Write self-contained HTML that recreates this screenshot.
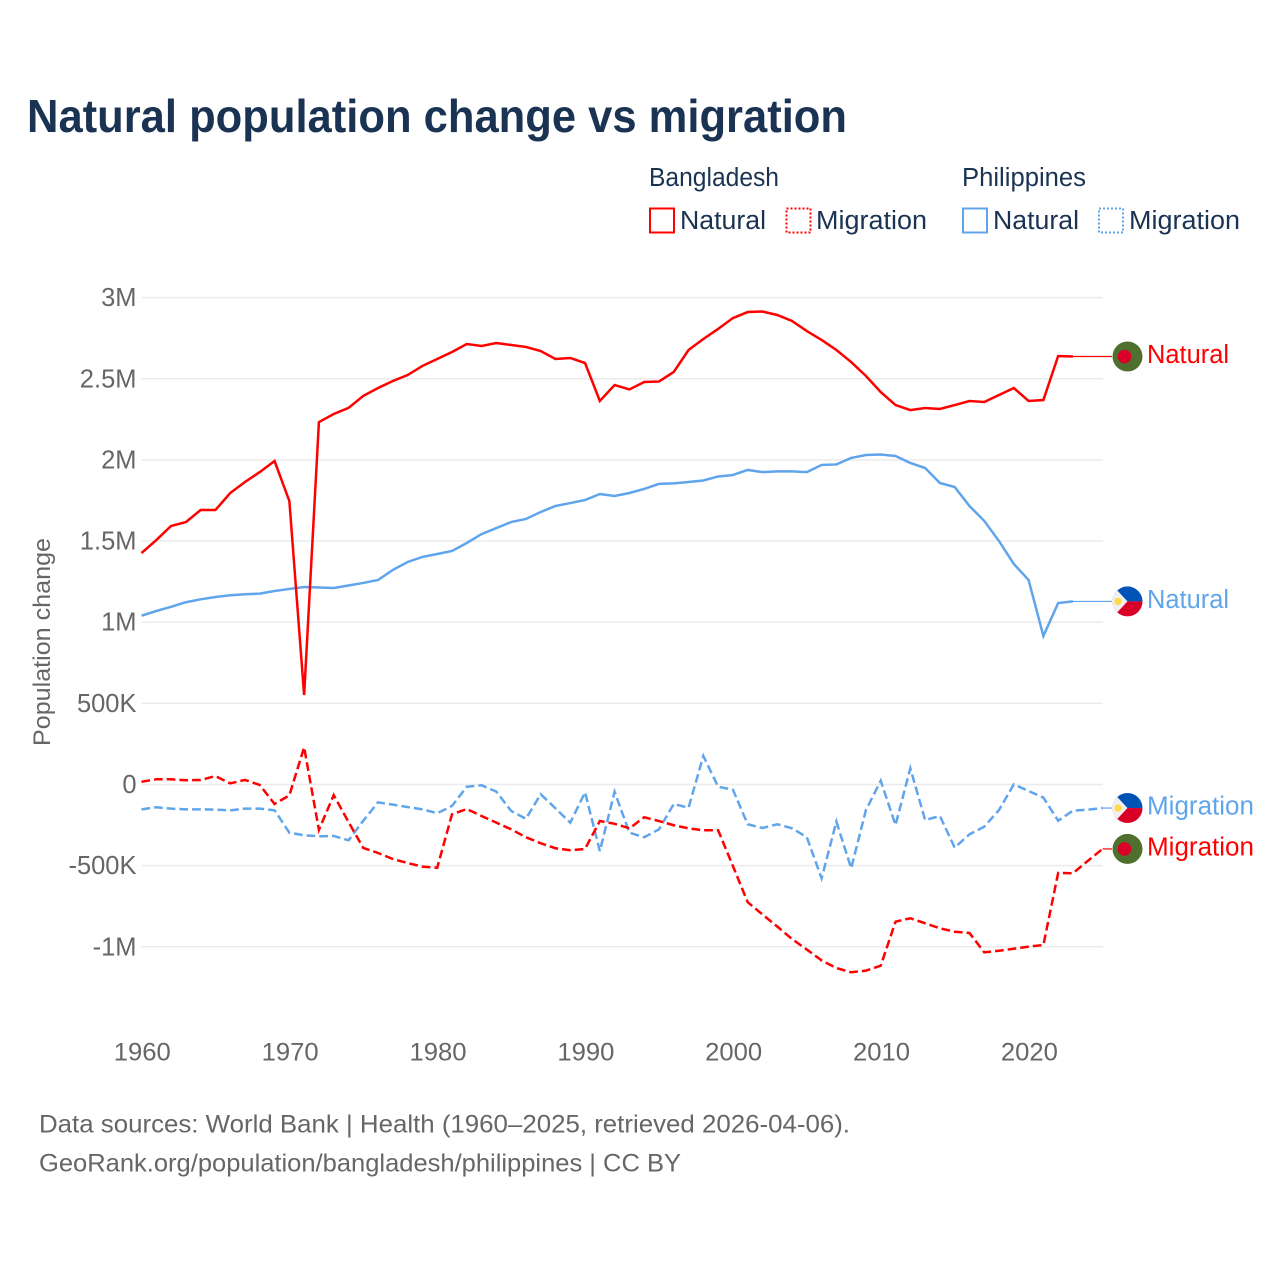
<!DOCTYPE html>
<html lang="en">
<head>
<meta charset="utf-8">
<title>Natural population change vs migration</title>
<style>
html,body{margin:0;padding:0;background:#fff}
svg{display:block;font-family:"Liberation Sans",sans-serif}
</style>
</head>
<body>
<svg id="chart" width="1280" height="1280" viewBox="0 0 1280 1280" xmlns="http://www.w3.org/2000/svg">
  <rect width="1280" height="1280" fill="#fff"/>
  <text x="27" y="132" font-size="46" font-weight="700" fill="#1a3353" textLength="820" lengthAdjust="spacingAndGlyphs">Natural population change vs migration</text>

  <g font-size="25.5" fill="#1a3353">
    <text x="649" y="186" textLength="130" lengthAdjust="spacingAndGlyphs">Bangladesh</text>
    <text x="962" y="186" textLength="124" lengthAdjust="spacingAndGlyphs">Philippines</text>

    <g>
      <rect x="650" y="208.5" width="24" height="24" fill="none" stroke="#ff0000" stroke-width="2"/>
      <text x="680" y="229" textLength="86" lengthAdjust="spacingAndGlyphs">Natural</text>
    </g>
    <g>
      <rect x="786.5" y="208.5" width="24" height="24" fill="none" stroke="#ff0000" stroke-width="2" stroke-dasharray="2 2"/>
      <text x="816" y="229" textLength="111" lengthAdjust="spacingAndGlyphs">Migration</text>
    </g>
    <g>
      <rect x="963" y="208.5" width="24" height="24" fill="none" stroke="#60a5ec" stroke-width="2"/>
      <text x="993" y="229" textLength="86" lengthAdjust="spacingAndGlyphs">Natural</text>
    </g>
    <g>
      <rect x="1099" y="208.5" width="24" height="24" fill="none" stroke="#60a5ec" stroke-width="2" stroke-dasharray="2 2"/>
      <text x="1129" y="229" textLength="111" lengthAdjust="spacingAndGlyphs">Migration</text>
    </g>
  </g>

  <g id="grid"></g>
  <g id="yticks"></g>
  <g id="xticks"></g>
  <text transform="translate(50 642) rotate(-90)" text-anchor="middle" font-size="24" fill="#666" textLength="208" lengthAdjust="spacingAndGlyphs">Population change</text>

  <g id="series"></g>
  <g id="endlabels"></g>

  <defs>
    <clipPath id="flag-clip"><circle cx="0" cy="0" r="15"/></clipPath>
  </defs>

  <text x="39" y="1132.5" font-size="25" fill="#666" textLength="811" lengthAdjust="spacingAndGlyphs">Data sources: World Bank | Health (1960–2025, retrieved 2026-04-06).</text>
  <text x="39" y="1171.5" font-size="25" fill="#666" textLength="642" lengthAdjust="spacingAndGlyphs">GeoRank.org/population/bangladesh/philippines | CC BY</text>
</svg>

<script>
var startYear = 1960;
var xTickYears = [1960, 1970, 1980, 1990, 2000, 2010, 2020];
var yTickValues = [3000, 2500, 2000, 1500, 1000, 500, 0, -500, -1000];
var yTickLabels = ["3M", "2.5M", "2M", "1.5M", "1M", "500K", "0", "-500K", "-1M"];

var bangladeshNatural = [1426,1506,1593,1617,1691,1691,1796,1864,1925,1993,1747,551,2233,2283,2320,2394,2443,2486,2523,2579,2622,2665,2714,2702,2720,2708,2696,2671,2622,2628,2597,2363,2461,2434,2480,2483,2542,2677,2745,2807,2874,2911,2914,2893,2856,2794,2739,2677,2603,2517,2418,2338,2307,2320,2314,2338,2363,2357,2400,2443,2363,2369,2640,2637];
var philippinesNatural = [1040,1069,1095,1123,1141,1155,1166,1172,1176,1192,1205,1217,1214,1211,1226,1242,1260,1322,1371,1402,1420,1439,1488,1543,1580,1617,1636,1679,1716,1734,1753,1790,1778,1796,1821,1852,1855,1864,1873,1898,1907,1938,1925,1929,1929,1925,1969,1972,2012,2030,2033,2024,1981,1950,1858,1833,1716,1624,1500,1359,1260,915,1118,1128];
var bangladeshMigration = [17,32,32,26,28,52,7,28,-3,-120,-67,229,-280,-65,-231,-391,-422,-459,-484,-506,-513,-184,-151,-194,-235,-276,-325,-362,-393,-405,-397,-225,-242,-270,-202,-225,-251,-270,-282,-282,-502,-725,-801,-875,-952,-1017,-1084,-1131,-1157,-1147,-1116,-845,-824,-855,-886,-907,-915,-1034,-1024,-1012,-999,-989,-545,-547,-471,-397];
var philippinesMigration = [-153,-140,-149,-153,-153,-155,-159,-149,-149,-159,-297,-313,-319,-317,-344,-223,-110,-124,-139,-153,-177,-132,-14,-5,-44,-163,-211,-60,-147,-235,-48,-410,-45,-297,-325,-276,-120,-143,176,-14,-32,-245,-268,-245,-270,-325,-578,-229,-516,-157,23,-250,100,-219,-194,-389,-307,-260,-157,1,-40,-81,-223,-161,-155,-145];

var NS = "http://www.w3.org/2000/svg";
var RED = "#ff0000";
var BLUE = "#60a5ec";
function xScale(year) { return 141.5 + (year - 1960) * 14.785; }
function yScale(value) { return 784.5 - value * 0.1623; }
function make(tag, parent) {
  var el = document.createElementNS(NS, tag);
  parent.appendChild(el);
  return el;
}
function pathFor(values) {
  return values.map(function (v, i) {
    return (i ? "L" : "M") + xScale(startYear + i).toFixed(2) + " " + yScale(v).toFixed(2);
  }).join("");
}

var gridG = document.getElementById("grid");
var yG = document.getElementById("yticks");
var xG = document.getElementById("xticks");
var seriesG = document.getElementById("series");
var endG = document.getElementById("endlabels");

yTickValues.forEach(function (v, i) {
  var line = make("line", gridG);
  
  
  line.setAttribute("x1", 141.5);
  line.setAttribute("x2", 1103);
  line.setAttribute("y1", yScale(v));
  line.setAttribute("y2", yScale(v));
  line.setAttribute("stroke", "#ebebeb");
  line.setAttribute("stroke-width", "1.5");

  var label = make("text", yG);
  
  
  label.setAttribute("x", 136.5);
  label.setAttribute("y", yScale(v) + 8.5);
  label.setAttribute("text-anchor", "end");
  label.setAttribute("font-size", "25.5");
  label.setAttribute("fill", "#666");
  label.textContent = yTickLabels[i];
});

xTickYears.forEach(function (year) {
  var label = make("text", xG);
  
  
  label.setAttribute("x", xScale(year) + 0.8);
  label.setAttribute("y", 1060.5);
  label.setAttribute("text-anchor", "middle");
  label.setAttribute("font-size", "25");
  label.setAttribute("fill", "#666");
  label.setAttribute("textLength", "57");
  label.setAttribute("lengthAdjust", "spacingAndGlyphs");
  label.textContent = String(year);
});

function drawLine(values, color, dashed, name) {
  var p = make("path", seriesG);
  
  
  p.setAttribute("d", pathFor(values));
  p.setAttribute("fill", "none");
  p.setAttribute("stroke", color);
  p.setAttribute("stroke-width", "2.5");
  if (dashed) { p.setAttribute("stroke-dasharray", "8.7 4"); }
}
drawLine(philippinesMigration, BLUE, true, "line-philippines-migration");
drawLine(bangladeshMigration, RED, true, "line-bangladesh-migration");
drawLine(philippinesNatural, BLUE, false, "line-philippines-natural");
drawLine(bangladeshNatural, RED, false, "line-bangladesh-natural");

function drawFlagBangladesh(g) {
  var bg = make("circle", g);
  
  
  bg.setAttribute("r", 15);
  bg.setAttribute("fill", "#4f6f2f");
  var disc = make("circle", g);
  
  
  disc.setAttribute("cx", -3);
  disc.setAttribute("r", 6.8);
  disc.setAttribute("fill", "#d80027");
}
function drawFlagPhilippines(g) {
  var inner = make("g", g);
  
  
  inner.setAttribute("clip-path", "url(#flag-clip)");
  var top = make("rect", inner);
  
  
  top.setAttribute("x", -15);
  top.setAttribute("y", -15);
  top.setAttribute("width", 30);
  top.setAttribute("height", 15);
  top.setAttribute("fill", "#0052b4");
  var bottom = make("rect", inner);
  
  
  bottom.setAttribute("x", -15);
  bottom.setAttribute("y", 0);
  bottom.setAttribute("width", 30);
  bottom.setAttribute("height", 15);
  bottom.setAttribute("fill", "#d80027");
  var tri = make("polygon", inner);
  
  
  tri.setAttribute("points", "-15,-15 -14,-15 0,0 -14,15 -15,15");
  tri.setAttribute("fill", "#f0f0f0");
  var sun = make("circle", inner);
  
  
  sun.setAttribute("cx", -9.5);
  sun.setAttribute("cy", 0);
  sun.setAttribute("r", 3.6);
  sun.setAttribute("fill", "#ffda44");
}
function drawEnd(values, color, text, textLen, isBangladesh, name) {
  var lastYear = startYear + values.length - 1;
  var y = yScale(values[values.length - 1]);
  var link = make("line", endG);
  
  
  link.setAttribute("x1", xScale(lastYear));
  link.setAttribute("x2", 1112);
  link.setAttribute("y1", y);
  link.setAttribute("y2", y);
  link.setAttribute("stroke", color);
  link.setAttribute("stroke-width", "1.2");

  var g = make("g", endG);
  
  
  g.setAttribute("transform", "translate(1127.5 " + y + ")");
  if (isBangladesh) { drawFlagBangladesh(g); } else { drawFlagPhilippines(g); }

  var label = make("text", endG);
  
  
  label.setAttribute("x", 1147);
  label.setAttribute("y", y + 6.5);
  label.setAttribute("font-size", "25.5");
  label.setAttribute("fill", color);
  label.setAttribute("textLength", textLen);
  label.setAttribute("lengthAdjust", "spacingAndGlyphs");
  label.textContent = text;
}
drawEnd(bangladeshNatural, RED, "Natural", 82, true, "end-bangladesh-natural");
drawEnd(philippinesNatural, BLUE, "Natural", 82, false, "end-philippines-natural");
drawEnd(philippinesMigration, BLUE, "Migration", 107, false, "end-philippines-migration");
drawEnd(bangladeshMigration, RED, "Migration", 107, true, "end-bangladesh-migration");
</script>
</body>
</html>
